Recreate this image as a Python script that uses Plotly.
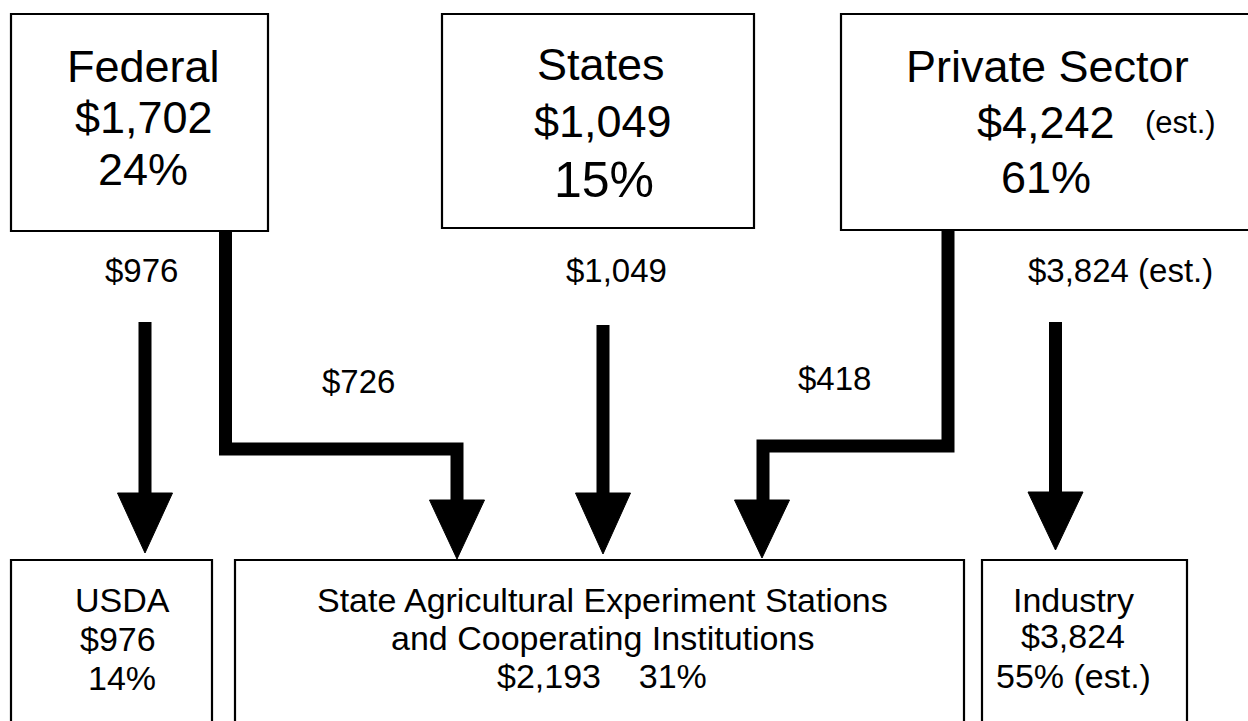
import plotly.graph_objects as go

# ---------------- data ----------------
source_names = ["Federal", "States", "Private Sector"]
source_values = [1702, 1049, 4242]
source_shares = [24, 15, 61]
source_est = [False, False, True]

flow_from = ["Federal", "Federal", "States", "Private Sector", "Private Sector"]
flow_to = ["USDA", "SAES", "SAES", "SAES", "Industry"]
flow_values = [976, 726, 1049, 418, 3824]
flow_est = [False, False, False, False, True]

performer_names = ["USDA", "SAES", "Industry"]
performer_title = [["USDA"],
                   ["State Agricultural Experiment Stations", "and Cooperating Institutions"],
                   ["Industry"]]
performer_values = [976, 2193, 3824]
performer_shares = [14, 31, 55]

def money(v):
    return "${:,}".format(v)

# ---------------- layout geometry (pixel space) ----------------
W, H = 1248, 721
FONT = "Liberation Sans, Arial, Helvetica, sans-serif"
BIG, MID, SMALL = 45, 33, 34

fig = go.Figure()
fig.add_trace(go.Scatter(x=[0, W], y=[0, H], mode="markers",
                         marker=dict(opacity=0), hoverinfo="skip", showlegend=False))

shapes = []
annotations = []

def text(s, cx, baseline, size):
    annotations.append(dict(x=cx, y=baseline - 0.35 * size, xref="x", yref="y",
                            text=s, showarrow=False, xanchor="center", yanchor="middle",
                            font=dict(family=FONT, size=size, color="black")))

def rect(x0, y0, x1, y1):
    shapes.append(dict(type="rect", xref="x", yref="y", x0=x0, y0=y0, x1=x1, y1=y1,
                       line=dict(color="black", width=2.2), fillcolor="rgba(0,0,0,0)"))

def poly(points, width=13):
    p = "M " + " L ".join("{} {}".format(a, b) for a, b in points)
    shapes.append(dict(type="path", xref="x", yref="y", path=p,
                       line=dict(color="black", width=width)))

def head(cx, top, tip, half=27.5):
    p = "M {} {} L {} {} L {} {} Z".format(cx - half, top, cx + half, top, cx, tip)
    shapes.append(dict(type="path", xref="x", yref="y", path=p,
                       fillcolor="black", line=dict(color="black", width=1)))

# source boxes
src_box = {"Federal": (11, 14, 268, 231),
           "States": (442, 14, 754, 228),
           "Private Sector": (841, 14, 1265, 230)}
src_text = {"Federal": [(143, 82, BIG), (144, 133, BIG), (143, 185, BIG)],
            "States": [(601, 80, BIG), (603, 137, BIG), (604, 197, 50)],
            "Private Sector": [(1047, 82, BIG), (1046, 138, BIG), (1046, 193, BIG)]}
for name, val, sh, est in zip(source_names, source_values, source_shares, source_est):
    rect(*src_box[name])
    (c1, b1, s1), (c2, b2, s2), (c3, b3, s3) = src_text[name]
    text(name, c1, b1, s1)
    text(money(val), c2, b2, s2)
    text("{}%".format(sh), c3, b3, s3)
    if est:
        text("(est.)", 1180, b2 - 5, 31)

# performer boxes (cut off at bottom of page)
perf_box = {"USDA": (11, 560, 212, 740),
            "SAES": (235, 560, 964, 740),
            "Industry": (982, 560, 1187, 740)}
perf_cx = {"USDA": 122, "SAES": 602, "Industry": 1073}
for name, title, val, sh in zip(performer_names, performer_title, performer_values, performer_shares):
    rect(*perf_box[name])
    cx = perf_cx[name]
    if name == "USDA":
        text(title[0], cx, 612, SMALL)
        text(money(val), cx - 4, 651, SMALL)
        text("{}%".format(sh), cx, 690, SMALL)
    elif name == "SAES":
        text(title[0], cx, 612, SMALL)
        text(title[1], cx, 650, SMALL)
        text("{}&nbsp;&nbsp;&nbsp;&nbsp;{}%".format(money(val), sh), cx, 688, SMALL)
    else:
        text(title[0], cx, 612, SMALL)
        text(money(val), cx, 648, SMALL)
        text("{}% (est.)".format(sh), cx, 688, SMALL)

# flows: label position and drawn connector
flow_label_pos = [(141, 282), (358, 393), (616, 282), (834, 390), (1120, 282)]
flow_paths = [
    dict(path=[(145, 322), (145, 495)], head=(145, 493, 553)),
    dict(path=[(225.5, 230), (225.5, 449), (457, 449), (457, 502)], head=(457, 500, 559)),
    dict(path=[(603, 325), (603, 495)], head=(603, 493, 554)),
    dict(path=[(948, 229), (948, 446), (763, 446), (763, 502)], head=(762, 500, 558)),
    dict(path=[(1055.5, 322), (1055.5, 494)], head=(1055.5, 492, 550)),
]
for val, est, (lx, lb), fp in zip(flow_values, flow_est, flow_label_pos, flow_paths):
    s = money(val) + (" (est.)" if est else "")
    text(s, lx, lb, MID)
    poly(fp["path"])
    head(*fp["head"])

fig.update_layout(
    width=W, height=H,
    margin=dict(l=0, r=0, t=0, b=0),
    paper_bgcolor="white", plot_bgcolor="white",
    xaxis=dict(range=[0, W], visible=False, fixedrange=True),
    yaxis=dict(range=[H, 0], visible=False, fixedrange=True),
    shapes=shapes, annotations=annotations, showlegend=False,
)
fig.write_html("out.html", config={"displayModeBar": False},
               post_script="document.body.style.margin='0';document.body.style.overflow='hidden';")
